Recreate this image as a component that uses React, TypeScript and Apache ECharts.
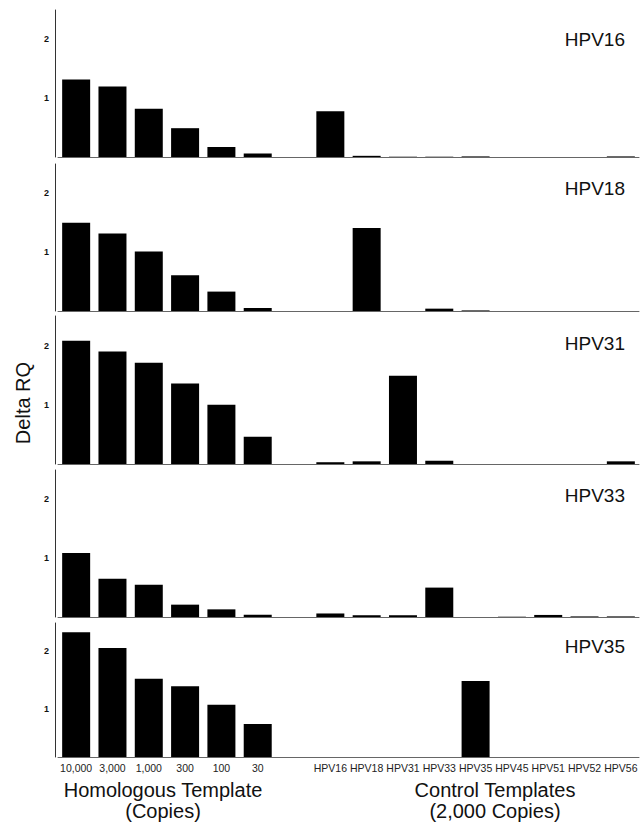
import React, { useEffect, useRef } from "react";
import * as echarts from "echarts";

const categories = [
  "10,000", "3,000", "1,000", "300", "100", "30", "",
  "HPV16", "HPV18", "HPV31", "HPV33", "HPV35", "HPV45", "HPV51", "HPV52", "HPV56",
];
const panelNames = ["HPV16", "HPV18", "HPV31", "HPV33", "HPV35"];
const yTickValues = [1, 2];

const hpv16Values = [1.32, 1.2, 0.82, 0.49, 0.17, 0.06, null, 0.78, 0.02, 0.005, 0.005, 0.01, 0, 0, 0, 0.01];
const hpv18Values = [1.5, 1.32, 1.01, 0.61, 0.33, 0.05, null, 0, 1.41, 0, 0.04, 0.01, 0, 0, 0, 0];
const hpv31Values = [2.08, 1.9, 1.71, 1.36, 1.0, 0.46, null, 0.03, 0.045, 1.49, 0.055, 0, 0, 0, 0, 0.045];
const hpv33Values = [1.09, 0.65, 0.55, 0.21, 0.13, 0.04, null, 0.06, 0.03, 0.03, 0.5, 0, 0.005, 0.035, 0.01, 0.01];
const hpv35Values = [2.32, 2.05, 1.52, 1.39, 1.07, 0.74, null, 0, 0, 0, 0, 1.48, 0, 0, 0, 0];

const seriesValues = [hpv16Values, hpv18Values, hpv31Values, hpv33Values, hpv35Values];
const yMins = [0, 0, 0, 0, 0.17];
const yMaxs = [2.5, 2.5, 2.5, 2.5, 2.48];

const titleLeft = ["Homologous Template", "(Copies)"];
const titleRight = ["Control Templates", "(2,000 Copies)"];
const yAxisTitle = "Delta RQ";

const FONT = "'Liberation Sans', Arial, Helvetica, sans-serif";

export default function App() {
  const ref = useRef<HTMLDivElement>(null);
  useEffect(() => {
    if (!ref.current) return;
    const chart = echarts.init(ref.current, null, { renderer: "svg" });
    const layout = [
      { top: 10, height: 147 },
      { top: 164, height: 147 },
      { top: 316, height: 148 },
      { top: 470, height: 147 },
      { top: 623, height: 134 },
    ];
    const labelY = [39, 188, 343, 495, 646];
    const n = panelNames.length;
    const option: any = {
      animation: false,
      backgroundColor: "#ffffff",
      grid: layout.map((l) => ({ left: 58, right: 4, top: l.top, height: l.height })),
      xAxis: layout.map((_, i) => ({
        type: "category",
        gridIndex: i,
        data: categories,
        axisLine: { show: true, onZero: false, lineStyle: { color: "#666", width: 1 } },
        axisTick: { show: false },
        axisLabel: {
          show: i === n - 1,
          interval: 0,
          fontSize: 10.5,
          color: "#222",
          fontFamily: FONT,
          margin: 5,
        },
        splitLine: { show: false },
      })),
      yAxis: layout.map((_, i) => ({
        type: "value",
        gridIndex: i,
        min: yMins[i],
        max: yMaxs[i],
        offset: 3,
        axisLine: { show: true, lineStyle: { color: "#333", width: 1 } },
        axisTick: { show: false, customValues: yTickValues },
        axisLabel: {
          customValues: yTickValues,
          fontSize: 9,
          fontWeight: "bold",
          color: "#111",
          fontFamily: FONT,
          margin: 6,
        },
        splitLine: { show: false },
      })),
      series: seriesValues.map((vals, i) => ({
        type: "bar",
        xAxisIndex: i,
        yAxisIndex: i,
        data: vals.map((v) => (v === null ? "-" : v)),
        barWidth: 28,
        clip: true,
        itemStyle: { color: "#000" },
        silent: true,
      })),
      graphic: [
        {
          type: "text",
          x: 23,
          y: 403,
          rotation: Math.PI / 2,
          style: {
            text: yAxisTitle,
            fontSize: 20,
            fontFamily: FONT,
            fill: "#111",
            textAlign: "center",
            textVerticalAlign: "middle",
          },
        },
        ...panelNames.map((name, i) => ({
          type: "text",
          x: 625,
          y: labelY[i],
          style: {
            text: name,
            fontSize: 19,
            fontFamily: FONT,
            fill: "#111",
            textAlign: "right",
            textVerticalAlign: "middle",
          },
        })),
        ...titleLeft.map((t, i) => ({
          type: "text",
          x: 163,
          y: 790 + i * 21,
          style: {
            text: t,
            fontSize: 20,
            fontFamily: FONT,
            fill: "#111",
            textAlign: "center",
            textVerticalAlign: "middle",
          },
        })),
        ...titleRight.map((t, i) => ({
          type: "text",
          x: 495,
          y: 790 + i * 21,
          style: {
            text: t,
            fontSize: 20,
            fontFamily: FONT,
            fill: "#111",
            textAlign: "center",
            textVerticalAlign: "middle",
          },
        })),
      ],
    };
    chart.setOption(option);
    return () => chart.dispose();
  }, []);
  return (
    <div
      ref={ref}
      style={{ position: "absolute", left: 0, top: 0, width: 643, height: 823, background: "#fff" }}
    />
  );
}
